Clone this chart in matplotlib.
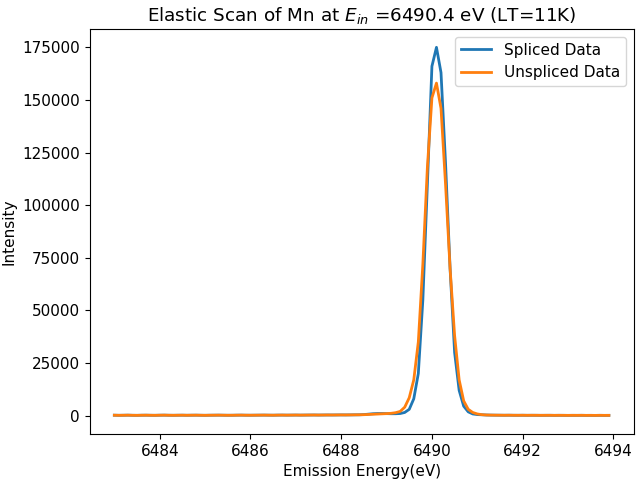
import numpy as np
import matplotlib.pyplot as plt

plt.rcParams["font.size"] = 11

# Emission energy grid (0.1 eV steps, 6483.0 .. 6493.9)
energy = np.round(6483.0 + 0.1 * np.arange(110), 1)

base_left = [200, 150, 180, 220, 160, 140, 190, 210, 170, 150, 200, 230, 180, 160, 190,
             210, 170, 200, 220, 180, 150, 190, 210, 230, 200, 170, 180, 220, 240, 200,
             190, 210, 230, 250, 220, 200, 240, 260, 230, 250, 270, 240, 260, 280, 300,
             270, 290, 310, 300, 320, 340, 330, 350, 380, 400]
base_right = [300, 250, 220, 200, 180, 200, 170, 160, 180, 150, 170, 160, 140, 150,
              160, 130, 150, 140, 120, 140, 130, 150, 120, 130, 110, 140, 120, 130]

spliced = (base_left
           + [500, 700, 900, 1000, 1000, 950, 900, 900]
           + [1000, 1500, 3000, 8000, 20000, 55000, 110000, 166000, 175000, 163000,
              120000, 70000, 30000, 12000, 4500, 1800, 800, 500, 400]
           + base_right)
unspliced = (base_left
             + [450, 550, 650, 750, 850, 950, 1100, 1400]
             + [2000, 4000, 8500, 17000, 35000, 72000, 118000, 151000, 158000, 146000,
                110000, 70000, 38000, 17000, 7000, 3000, 1500, 800, 450]
             + base_right)

fig, ax = plt.subplots(figsize=(6.4, 4.82), dpi=100)
ax.plot(energy, spliced, color="#1f77b4", linewidth=2, label="Spliced Data")
ax.plot(energy, unspliced, color="#ff7f0e", linewidth=2, label="Unspliced Data")
ax.set_title("Elastic Scan of Mn at $E_{in}$ =6490.4 eV (LT=11K)")
ax.set_xlabel("Emission Energy(eV)")
ax.set_ylabel("Intensity")
ax.set_xticks([6484, 6486, 6488, 6490, 6492, 6494])
ax.legend(loc="upper right")
fig.subplots_adjust(left=0.14, right=0.99, top=0.94, bottom=0.1)
plt.savefig("out.png", dpi=100)
